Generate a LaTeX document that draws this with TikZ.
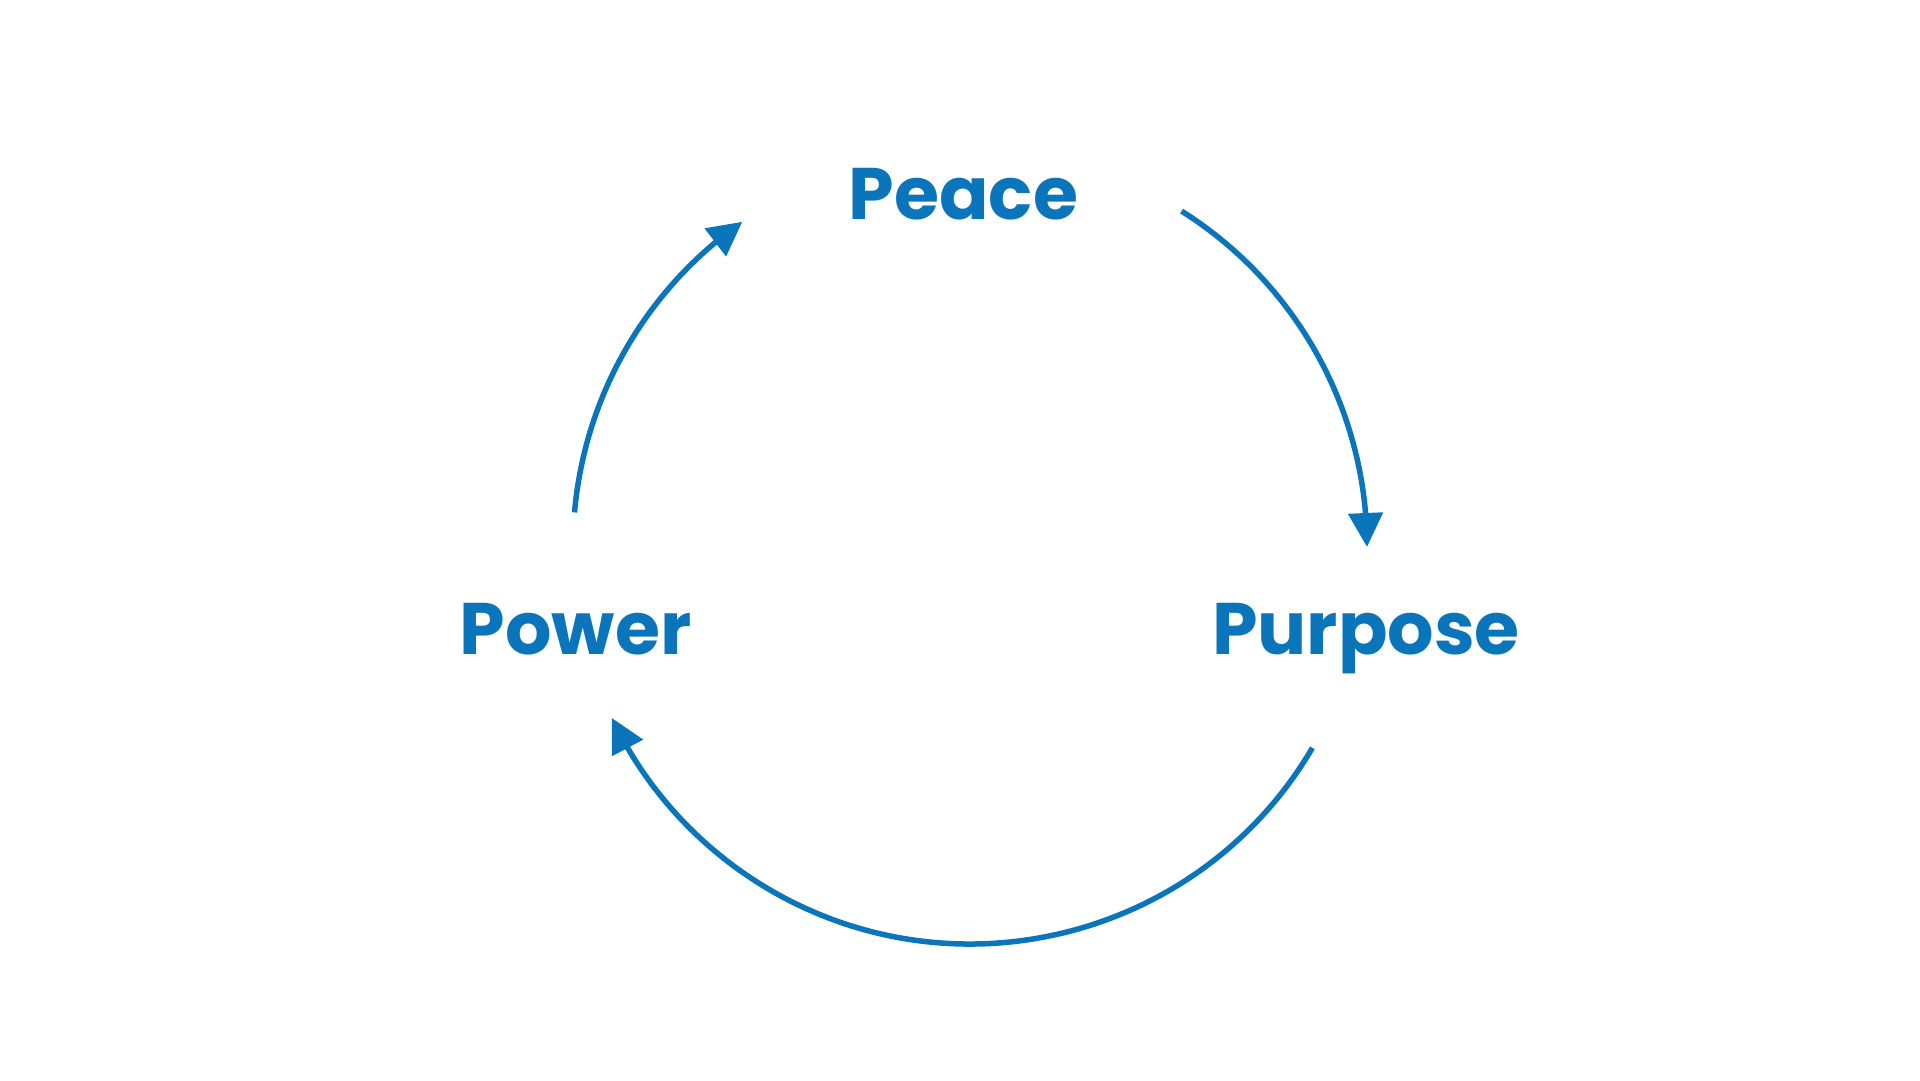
\documentclass[tikz,border=0pt]{standalone}
\usepackage{fontspec}
\newfontfamily\pop{Poppins}
\usetikzlibrary{arrows.meta,bending,calc}
\definecolor{cycblue}{RGB}{11,117,187}
\begin{document}
\begin{tikzpicture}[x=1pt,y=1pt,
  lbl/.style={inner sep=0pt,anchor=base,text=cycblue,font=\pop\bfseries\fontsize{73}{78}\selectfont},
  arc/.style={draw=cycblue,line width=5.5pt,line cap=butt,-{Triangle[width=34pt,length=34pt,flex]}}]
\useasboundingbox (0,0) rectangle (1920,1080);
\coordinate (c) at (970,533);
\node[lbl] (peace) at (963.5,860) {Peace};
\node[lbl] (power) at (575.5,425) {Power};
\node[lbl] (purpose) at (1366,425) {Purpose};
\coordinate (a1) at ($(c)+(175:397)$);
\coordinate (a2) at ($(c)+(57.8:397)$);
\coordinate (a3) at ($(c)+(-30.4:397)$);
\draw[arc] (a1) arc[start angle=175,end angle=125,radius=397];
\draw[arc] (a2) arc[start angle=57.8,end angle=0,radius=397];
\draw[arc] (a3) arc[start angle=-30.4,end angle=-154.5,radius=397];
\end{tikzpicture}
\end{document}
